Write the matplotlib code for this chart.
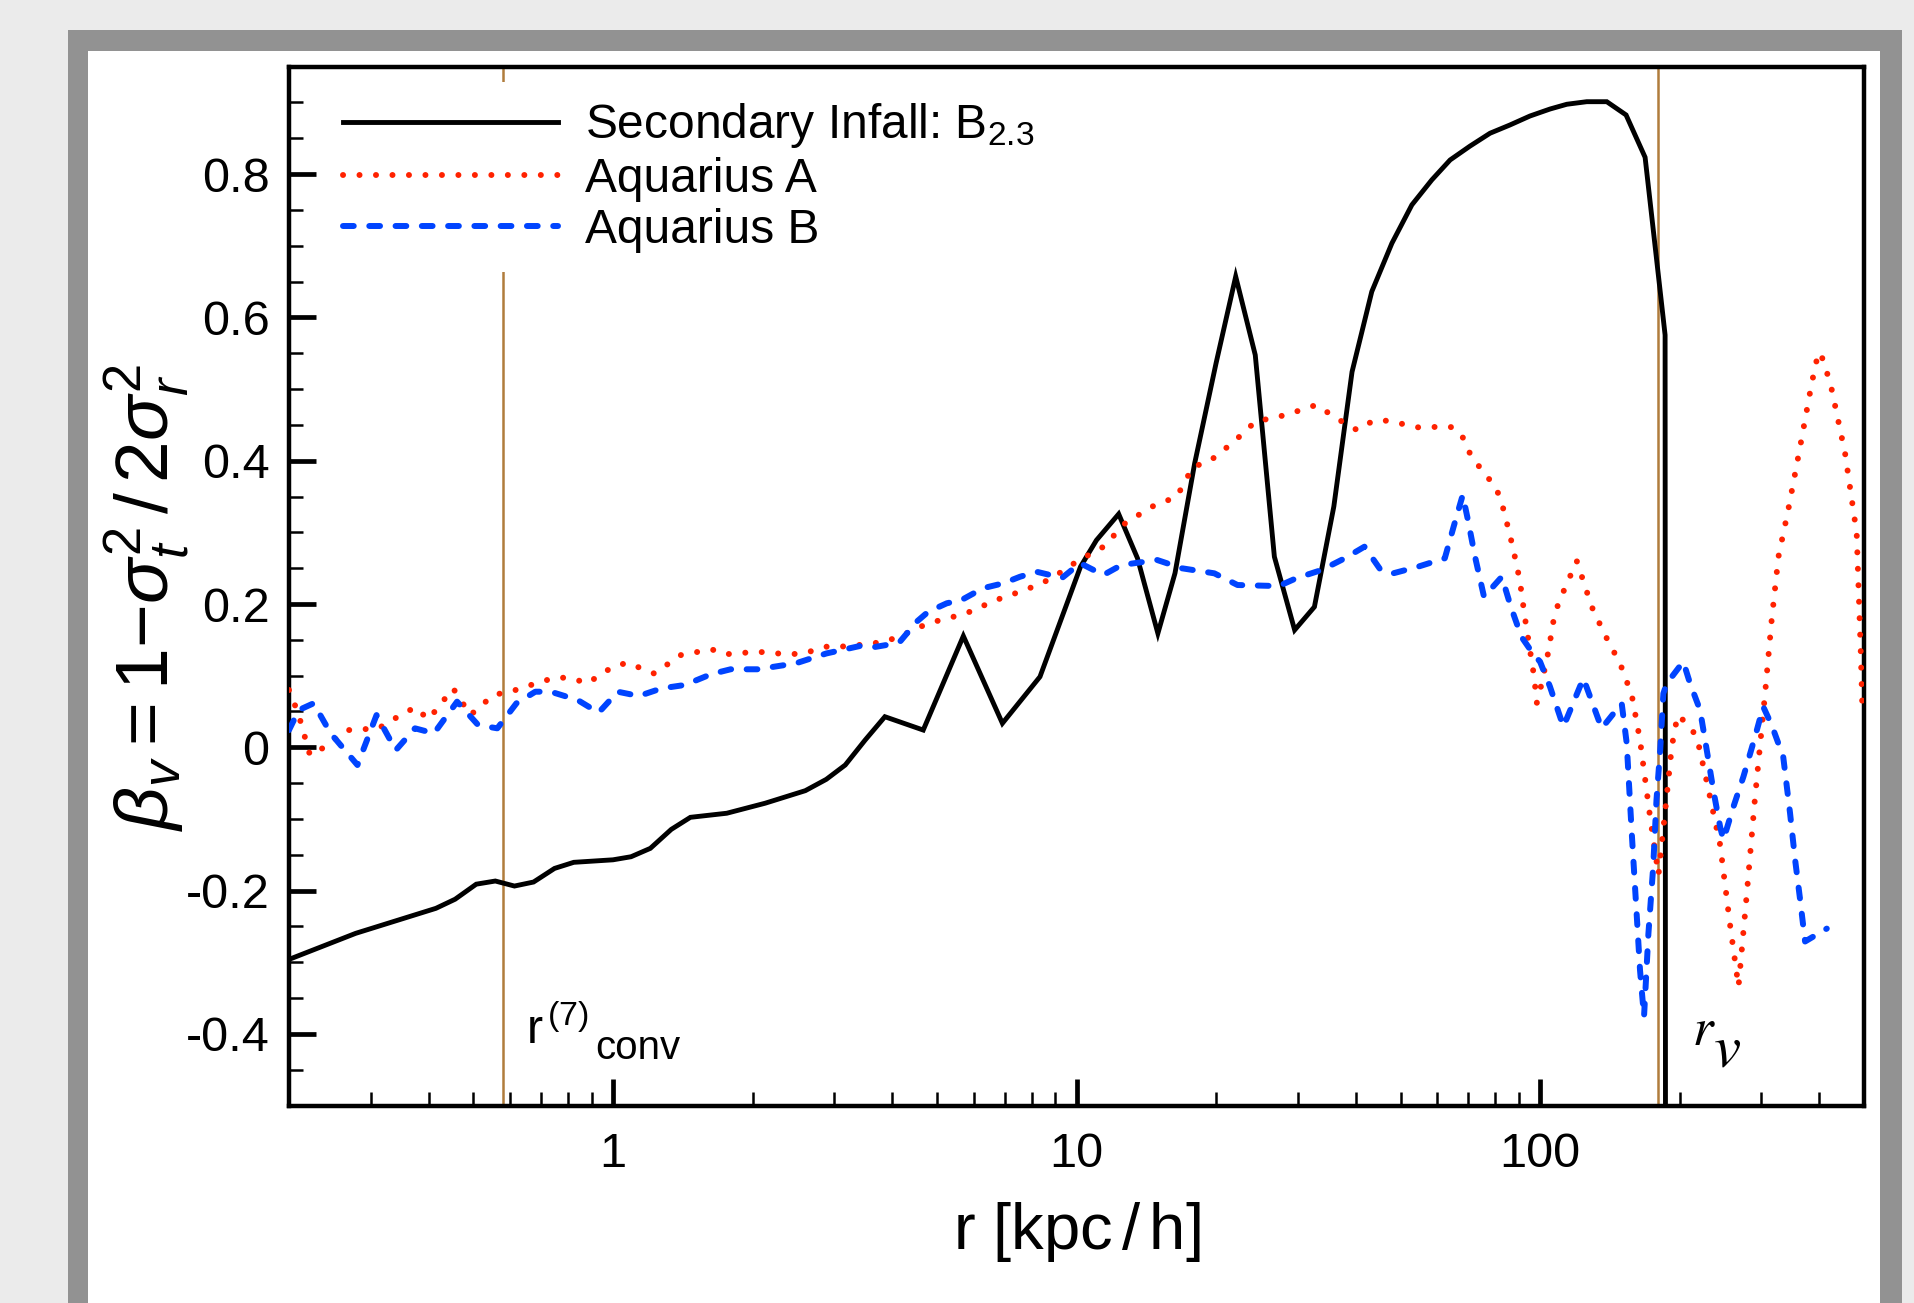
import numpy as np
import matplotlib
matplotlib.use("Agg")
import matplotlib.pyplot as plt
from matplotlib.patches import Rectangle
from matplotlib.ticker import LogLocator, FixedLocator, FixedFormatter, NullFormatter

plt.rcParams['font.family'] = ['Liberation Sans', 'DejaVu Sans']
plt.rcParams['mathtext.fontset'] = 'custom'
plt.rcParams['mathtext.rm'] = 'Liberation Sans'
plt.rcParams['mathtext.it'] = 'Liberation Sans:italic'
plt.rcParams['mathtext.bf'] = 'Liberation Sans:bold'

# Secondary infall model B_2.3
r_si = [0.2, 0.2786, 0.415, 0.4565, 0.507, 0.5574, 0.613, 0.674, 0.748, 0.823,
        1.0, 1.094, 1.204, 1.336, 1.469, 1.76, 2.13, 2.60, 2.885, 3.17,
        3.50, 3.86, 4.67, 5.70, 6.92, 8.34, 10.2, 11.04, 12.33, 13.54,
        14.98, 16.31, 17.98, 20.0, 22.05, 24.3, 26.72, 29.55, 32.6, 35.9,
        39.3, 43.35, 47.9, 52.9, 58.4, 63.97, 70.6, 78.0, 86.1, 95.1,
        105.1, 114.2, 126.1, 139.3, 153.3, 168.5, 186.1, 186.6]
beta_si = [-0.296, -0.2596, -0.2247, -0.212, -0.191, -0.1866, -0.1936, -0.188, -0.169, -0.1605,
           -0.157, -0.1527, -0.141, -0.1145, -0.0977, -0.092, -0.078, -0.0605, -0.0447, -0.0247,
           0.0102, 0.0427, 0.0241, 0.1553, 0.0335, 0.0985, 0.252, 0.289, 0.3256, 0.2637,
           0.159, 0.243, 0.396, 0.536, 0.657, 0.5475, 0.266, 0.1637, 0.196, 0.336,
           0.524, 0.636, 0.7034, 0.757, 0.7918, 0.8197, 0.839, 0.857, 0.8685, 0.881,
           0.8908, 0.8974, 0.901, 0.901, 0.8825, 0.8234, 0.5754, -1.0]

# Aquarius A
r_aqa = [0.2, 0.2095, 0.222, 0.2367, 0.268, 0.312, 0.3336, 0.374, 0.40, 0.452,
         0.4926, 0.552, 0.607, 0.70, 0.7555, 0.815, 0.88, 1.0, 1.074, 1.227,
         1.402, 1.632, 1.744, 2.05, 2.387, 2.575, 2.887, 3.09, 3.55, 3.83,
         4.16, 4.44, 4.79, 5.16, 5.61, 6.04, 6.45, 6.95, 7.49, 8.07,
         8.69, 9.29, 10.0, 11.44, 12.73, 14.54, 16.46, 17.83, 19.31, 21.86,
         24.3, 28.28, 32.87, 37.9, 40.3, 43.7, 46.9, 54.5, 64.0, 67.5,
         71.1, 80.5, 83.5, 87.3, 90.4, 92.8, 97.1, 98.4, 100.8, 104.2,
         106.8, 109.5, 120.0, 129.3, 138.0, 148.8, 157.7, 164.3, 172.7, 180.1,
         186.1, 192.4, 198.0, 207.3, 217.8, 228.9, 244.6, 257.0, 268.0, 279.3,
         291.0, 305.8, 316.0, 326.8, 343.0, 364.0, 385.5, 398.5, 408.7, 426.0,
         455.0, 482.0, 492.0, 496.0]
beta_aqa = [0.080, 0.047, -0.011, -0.001, 0.024, 0.0265, 0.038, 0.0558, 0.039, 0.0823,
            0.045, 0.073, 0.0786, 0.0916, 0.0977, 0.0963, 0.0893, 0.1125, 0.118, 0.103,
            0.1288, 0.1368, 0.1298, 0.1334, 0.1298, 0.131, 0.1404, 0.1404, 0.144, 0.1474,
            0.1544, 0.1637, 0.173, 0.1786, 0.1846, 0.1916, 0.201, 0.2093, 0.2163, 0.2242,
            0.2335, 0.2451, 0.259, 0.280, 0.3126, 0.3358, 0.3498, 0.3916, 0.3986, 0.4265,
            0.4544, 0.4638, 0.4777, 0.4522, 0.4428, 0.4558, 0.4558, 0.4466, 0.4475, 0.4382,
            0.4056, 0.3615, 0.331, 0.28, 0.2335, 0.18, 0.0985, 0.062, 0.089, 0.1334,
            0.175, 0.201, 0.26, 0.196, 0.157, 0.117, 0.073, 0.010, -0.097, -0.178,
            -0.09, 0.001, 0.045, 0.0335, 0.015, -0.048, -0.136, -0.248, -0.334, -0.204,
            -0.069, 0.075, 0.178, 0.266, 0.331, 0.4196, 0.508, 0.5513, 0.5405, 0.4987,
            0.4103, 0.2987, 0.131, 0.05]

# Aquarius B
r_aqb = [0.2, 0.21, 0.226, 0.246, 0.281, 0.309, 0.340, 0.374, 0.411, 0.461,
         0.512, 0.563, 0.619, 0.68, 0.734, 0.839, 0.931, 1.024, 1.137, 1.274,
         1.429, 1.632, 1.794, 2.05, 2.48, 2.887, 3.41, 3.64, 3.89, 4.16,
         4.52, 4.79, 5.25, 5.65, 6.09, 6.40, 6.95, 7.55, 8.2, 8.77,
         9.29, 10.18, 11.43, 12.5, 14.93, 16.9, 19.83, 22.25, 27.3, 29.8,
         33.8, 37.9, 41.8, 45.3, 48.2, 54.5, 62.3, 65.1, 68.1, 69.9,
         72.4, 75.7, 79.1, 82.7, 86.5, 91.2, 97.0, 100.0, 105.0, 112.3,
         124.0, 135.8, 150.0, 153.8, 157.7, 161.7, 164.3, 167.6, 171.3, 175.4,
         178.3, 181.6, 184.5, 187.6, 203.7, 210.7, 221.4, 228.9, 236.5, 244.6,
         248.6, 261.3, 274.6, 291.0, 303.0, 316.0, 334.6, 346.2, 355.0, 364.0,
         373.0, 388.9, 415.5]
beta_aqb = [0.024, 0.052, 0.0614, 0.0195, -0.0247, 0.045, -0.004, 0.0265, 0.0195, 0.0637,
            0.031, 0.0265, 0.0614, 0.0776, 0.0776, 0.066, 0.0483, 0.0776, 0.0716, 0.0823,
            0.087, 0.1023, 0.1089, 0.1089, 0.1172, 0.131, 0.1414, 0.1396, 0.1428, 0.1474,
            0.1753, 0.1893, 0.201, 0.2056, 0.2172, 0.2233, 0.2289, 0.238, 0.245, 0.2405,
            0.236, 0.257, 0.2405, 0.2544, 0.2614, 0.2498, 0.2428, 0.2265, 0.225, 0.236,
            0.2475, 0.2638, 0.28, 0.2475, 0.2428, 0.252, 0.2638, 0.308, 0.352, 0.317,
            0.266, 0.21, 0.224, 0.238, 0.196, 0.154, 0.129, 0.1195, 0.085, 0.0288,
            0.0963, 0.0265, 0.0614, 0.0056, -0.12, -0.236, -0.311, -0.376, -0.26, -0.167,
            -0.0736, -0.004, 0.075, 0.089, 0.1195, 0.089, 0.052, -0.004, -0.06, -0.111,
            -0.129, -0.083, -0.041, 0.015, 0.0567, 0.031, -0.013, -0.092, -0.157, -0.213,
            -0.271, -0.264, -0.253]

r_conv = 0.58
r_vir = 180.0

y_major = [-0.4, -0.2, 0, 0.2, 0.4, 0.6, 0.8]
y_labels = ['-0.4', '-0.2', '0', '0.2', '0.4', '0.6', '0.8']
x_major = [1, 10, 100]
x_labels = ['1', '10', '100']

fig = plt.figure(figsize=(19.15, 13.03), dpi=100)
fig.patch.set_facecolor('#ebebeb')
# grey panel frame and white page
fig.patches.append(Rectangle((0.0355, 0.0), 0.9577, 0.977, transform=fig.transFigure,
                             facecolor='#929292', edgecolor='none', zorder=-2))
fig.patches.append(Rectangle((0.046, 0.0), 0.9358, 0.9609, transform=fig.transFigure,
                             facecolor='white', edgecolor='none', zorder=-1))

ax = fig.add_axes([0.1509, 0.1515, 0.8225, 0.7974])
ax.set_xscale('log')

ax.axvline(r_conv, color='#b07c3c', lw=1.8, zorder=1.5)
ax.axvline(r_vir, color='#b07c3c', lw=1.8, zorder=1.5)

ax.plot(r_si, beta_si, color='black', lw=3.5, solid_joinstyle='miter',
        label=r'Secondary Infall: B$_{2.3}$', zorder=3)
ax.plot(r_aqa, beta_aqa, color='#ff2200', lw=4.3, linestyle=(0, (0.01, 2.75)),
        dash_capstyle='round', label='Aquarius A', zorder=4)
ax.plot(r_aqb, beta_aqb, color='#0044ff', lw=4.3, linestyle=(0, (1.8, 2.6)),
        dash_capstyle='round', label='Aquarius B', zorder=5)

ax.set_xlim(0.2, 500)
ax.set_ylim(-0.5, 0.95)

ax.xaxis.set_major_locator(FixedLocator(x_major))
ax.xaxis.set_major_formatter(FixedFormatter(x_labels))
ax.xaxis.set_minor_locator(LogLocator(base=10, subs=np.arange(2, 10), numticks=20))
ax.xaxis.set_minor_formatter(NullFormatter())
ax.yaxis.set_major_locator(FixedLocator(y_major))
ax.yaxis.set_major_formatter(FixedFormatter(y_labels))
ax.yaxis.set_minor_locator(FixedLocator(np.arange(-0.45, 0.951, 0.05)))

ax.tick_params(which='both', direction='in', top=False, right=False)
ax.tick_params(which='major', length=19.5, width=3.4, labelsize=35, pad=14)
ax.tick_params(which='minor', length=10, width=1.8)
ax.tick_params(axis='x', which='major', pad=19)
for s in ax.spines.values():
    s.set_linewidth(3.2)

ax.set_xlabel(r'r [kpc$\,$/$\,$h]', fontsize=47, va='center')
ax.xaxis.set_label_coords(0.5, -0.122)
ax.set_ylabel(r'$\beta_v = \mathit{1}{-}\sigma_t^{\mathit{2}}\,/\,\mathit{2}\sigma_r^{\mathit{2}}$',
              fontsize=54, va='center')
ax.yaxis.set_label_coords(-0.09, 0.489)

ax.text(0.649, -0.414, r'r$^{\,(7)}$', fontsize=35, ha='left', va='baseline')
ax.text(0.915, -0.435, 'conv', fontsize=29, ha='left', va='baseline')
ax.text(212.8, -0.415, r'$r$', fontsize=38, math_fontfamily='stix', ha='left', va='baseline')
ax.text(236.0, -0.446, r'$v$', fontsize=44, math_fontfamily='stix', ha='left', va='baseline')

leg = ax.legend(loc='upper left', bbox_to_anchor=(0.022, 0.985), borderaxespad=0,
                fontsize=34.5, handlelength=4.5, handletextpad=0.55, labelspacing=0.13,
                borderpad=0.4, frameon=True, fancybox=False, framealpha=1)
leg.get_frame().set_edgecolor('none')
leg.get_frame().set_facecolor('white')
leg.set_zorder(6)

fig.savefig('out.png', dpi=100, facecolor=fig.get_facecolor())
